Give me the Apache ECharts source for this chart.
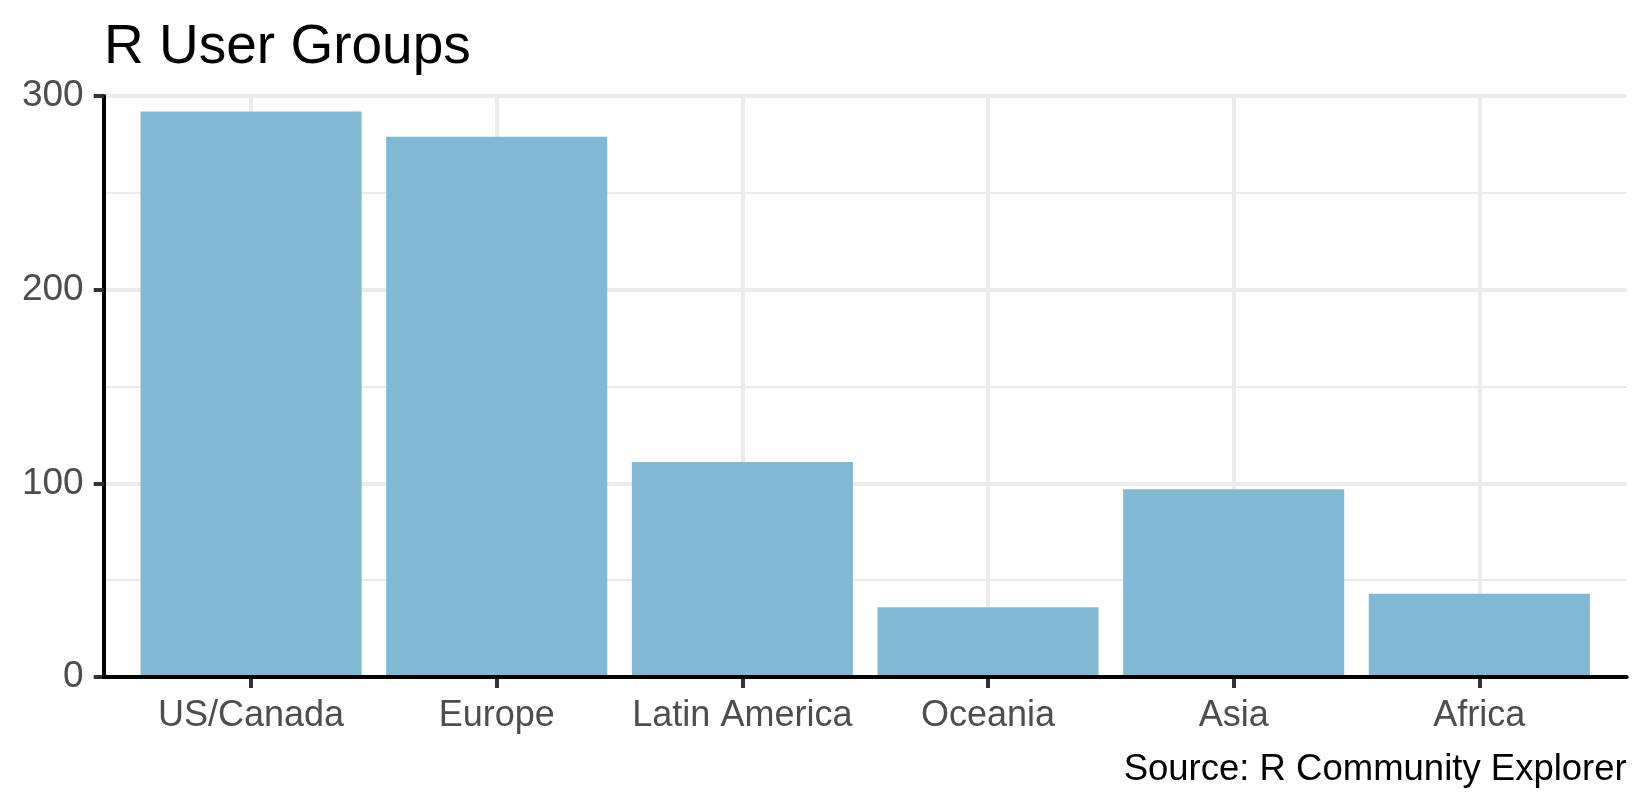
<!DOCTYPE html>
<html>
<head>
<meta charset="utf-8">
<title>R User Groups</title>
<script src="https://cdn.jsdelivr.net/npm/echarts@6/dist/echarts.min.js"></script>
<style>
  html, body { margin: 0; padding: 0; background: #fff; }
  #chart { width: 1650px; height: 810px; }
</style>
</head>
<body>
<div id="chart"></div>
<script>
// data
const regions = ['US/Canada', 'Europe', 'Latin America', 'Oceania', 'Asia', 'Africa'];
const userGroups = [292, 279, 111, 36, 97, 43];
const yMin = 0;
const yMax = 300;
const yStep = 100;

const FONT = '"Liberation Sans", Arial, sans-serif';
const GRID_COLOR = '#EBEBEB';

// panel edges (ggplot style: discrete axis expanded by 0.6 band on each side)
const panel = { left: 103.7, right: 1626.7, top: 96, bottom: 677 };
const unit = (panel.right - panel.left) / (regions.length + 0.2);
const barsLeft = panel.left + 0.1 * unit;
const barsRight = barsLeft + regions.length * unit;

const chart = echarts.init(document.getElementById('chart'), null, { renderer: 'canvas' });

chart.setOption({
  animation: false,
  backgroundColor: '#fff',
  title: [
    {
      text: 'R User Groups',
      left: 104,
      top: 20,
      padding: 0,
      textStyle: { fontFamily: FONT, fontSize: 55, fontWeight: 'normal', color: '#000' }
    },
    {
      text: 'Source: R Community Explorer',
      right: 1650 - panel.right,
      top: 751,
      padding: 0,
      textStyle: { fontFamily: FONT, fontSize: 36.5, fontWeight: 'normal', color: '#000' }
    }
  ],
  grid: [
    // frame: axis lines, y labels, horizontal grid lines
    {
      left: panel.left, right: 1650 - panel.right,
      top: panel.top, bottom: 810 - panel.bottom,
      containLabel: false
    },
    // bars, x labels, vertical grid lines
    {
      left: barsLeft, right: 1650 - barsRight,
      top: panel.top, bottom: 810 - panel.bottom,
      containLabel: false
    }
  ],
  xAxis: [
    {
      gridIndex: 0,
      type: 'value',
      min: 0,
      max: 1,
      z: 5,
      axisLine: { show: true, onZero: false, lineStyle: { color: '#000', width: 4 } },
      axisTick: { show: false },
      axisLabel: { show: false },
      splitLine: { show: false }
    },
    {
      gridIndex: 1,
      type: 'category',
      data: regions,
      axisLine: { show: false },
      axisTick: {
        show: true, alignWithLabel: true, interval: 0, length: 11,
        lineStyle: { color: '#333333', width: 4 }
      },
      axisLabel: {
        interval: 0,
        margin: 21,
        fontFamily: FONT, fontSize: 36, color: '#4D4D4D'
      },
      splitLine: {
        show: true, alignWithLabel: true, interval: 0,
        lineStyle: { color: GRID_COLOR, width: 4 }
      }
    }
  ],
  yAxis: [
    {
      gridIndex: 0,
      type: 'value',
      min: yMin,
      max: yMax,
      interval: yStep,
      axisLine: { show: true, lineStyle: { color: '#000', width: 4 } },
      axisTick: { show: true, length: 10, lineStyle: { color: '#333333', width: 4 } },
      axisLabel: {
        margin: 20,
        fontFamily: FONT, fontSize: 37, color: '#4D4D4D'
      },
      splitLine: { show: true, lineStyle: { color: GRID_COLOR, width: 4 } },
      minorTick: { show: false, splitNumber: 2 },
      minorSplitLine: { show: true, lineStyle: { color: GRID_COLOR, width: 2 } }
    },
    {
      gridIndex: 1,
      type: 'value',
      min: yMin,
      max: yMax,
      interval: yStep,
      show: false
    }
  ],
  series: [
    {
      type: 'bar',
      xAxisIndex: 1,
      yAxisIndex: 1,
      data: userGroups,
      barCategoryGap: '10%',
      itemStyle: { color: '#81B8D4' }
    }
  ]
});
</script>
</body>
</html>
